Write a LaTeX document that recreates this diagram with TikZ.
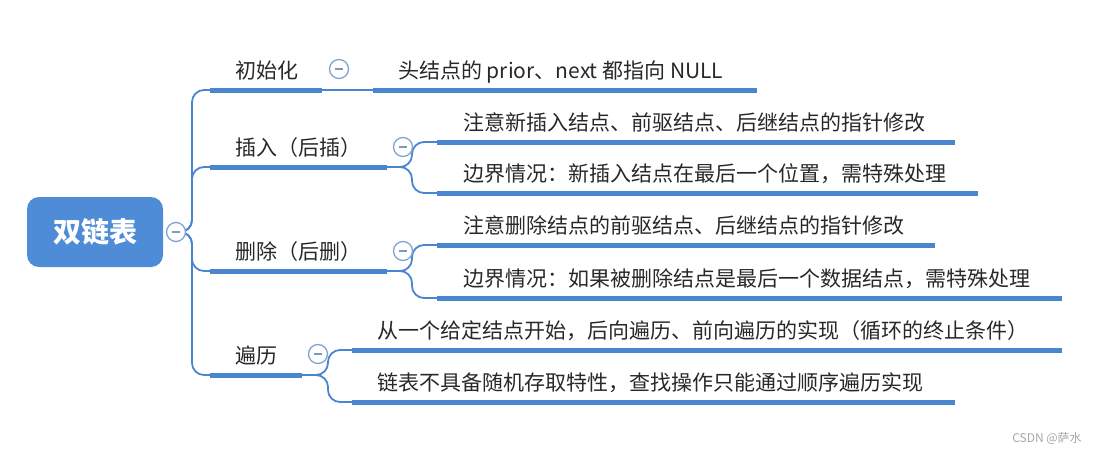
\documentclass[tikz,border=0pt]{standalone}
\usepackage{fontspec}
\setmainfont{Noto Sans CJK SC}
\definecolor{mapblue}{RGB}{74,134,207}
\definecolor{rootblue}{RGB}{79,140,215}
\definecolor{ringblue}{RGB}{128,163,210}
\definecolor{txtgray}{RGB}{40,40,40}

\begin{document}
\begin{tikzpicture}[
  x=1pt, y=-1pt,
  font=\fontsize{21}{25}\selectfont,
  link/.style={draw=mapblue, line width=1.8pt, rounded corners=12pt},
  uline/.style={draw=mapblue, line width=5pt},
  lbl/.style={anchor=base west, inner sep=0pt, text=txtgray},
  rootbox/.style={
    fill=rootblue,
    rounded corners=12pt,
    minimum width=136pt,
    minimum height=70pt,
    text=white,
    font=\fontsize{28}{32}\selectfont\bfseries
  },
  fold/.style={
    circle,
    draw=ringblue,
    fill=white,
    line width=1.3pt,
    minimum size=19pt,
    inner sep=0pt,
    path picture={\draw[ringblue!70!gray, line width=1.2pt]
      ([xshift=-4pt]path picture bounding box.center) --
      ([xshift=4pt]path picture bounding box.center);}
  },
  wm/.style={font=\fontsize{12}{14}\selectfont, text=gray!70}
]
\useasboundingbox (0,0) rectangle (1097,452);

% -------------------------------------------------
% Column x-positions
% -------------------------------------------------
\def\xL{210}   % level-1 underline start
\def\xT{235}   % level-1 text start
\def\xF{412}   % fork of level-1 -> level-2
\def\xC{437}   % level-2 underline start
\def\xCT{463}  % level-2 text start

% -------------------------------------------------
% ROOT
% -------------------------------------------------
\node[rootbox] (root) at (95,232) {双链表};
\coordinate (trunk) at (192,232);

% -------------------------------------------------
% LEVEL 1: topics
% -------------------------------------------------
\node[lbl] (t-init) at (\xT,78)  {初始化};
\node[lbl] (t-ins)  at (\xT,155) {插入（后插）};
\node[lbl] (t-del)  at (\xT,259) {删除（后删）};
\node[lbl] (t-trav) at (\xT,363) {遍历};

\coordinate (u-init-a) at (\xL,90);  \coordinate (u-init-b) at (322,90);
\coordinate (u-ins-a)  at (\xL,167); \coordinate (u-ins-b)  at (387,167);
\coordinate (u-del-a)  at (\xL,271); \coordinate (u-del-b)  at (387,271);
\coordinate (u-trav-a) at (\xL,375); \coordinate (u-trav-b) at (302,375);

% -------------------------------------------------
% LEVEL 2: details
% -------------------------------------------------
\node[lbl] (c-init)  at (398,78)   {头结点的 prior、next 都指向 NULL};
\node[lbl] (c-ins1)  at (\xCT,130) {注意新插入结点、前驱结点、后继结点的指针修改};
\node[lbl] (c-ins2)  at (\xCT,181) {边界情况：新插入结点在最后一个位置，需特殊处理};
\node[lbl] (c-del1)  at (\xCT,233) {注意删除结点的前驱结点、后继结点的指针修改};
\node[lbl] (c-del2)  at (\xCT,286) {边界情况：如果被删除结点是最后一个数据结点，需特殊处理};
\node[lbl] (c-trav1) at (377,338)  {从一个给定结点开始，后向遍历、前向遍历的实现（循环的终止条件）};
\node[lbl] (c-trav2) at (377,390)  {链表不具备随机存取特性，查找操作只能通过顺序遍历实现};

\coordinate (uc-init-a)  at (373,90);  \coordinate (uc-init-b)  at (757,90);
\coordinate (uc-ins1-a)  at (\xC,142); \coordinate (uc-ins1-b)  at (955,142);
\coordinate (uc-ins2-a)  at (\xC,193); \coordinate (uc-ins2-b)  at (978,193);
\coordinate (uc-del1-a)  at (\xC,245); \coordinate (uc-del1-b)  at (935,245);
\coordinate (uc-del2-a)  at (\xC,298); \coordinate (uc-del2-b)  at (1062,298);
\coordinate (uc-trav1-a) at (352,350); \coordinate (uc-trav1-b) at (1062,350);
\coordinate (uc-trav2-a) at (352,402); \coordinate (uc-trav2-b) at (955,402);

% forks
\coordinate (f-ins)  at (\xF,167);
\coordinate (f-del)  at (\xF,271);
\coordinate (f-trav) at (328,375);

% -------------------------------------------------
% CONNECTORS
% -------------------------------------------------
% root -> topics
\draw[link] (176,232) -- (trunk) |- (u-init-a);
\draw[link] (176,232) -- (trunk) |- (u-ins-a);
\draw[link] (176,232) -- (trunk) |- (u-del-a);
\draw[link] (176,232) -- (trunk) |- (u-trav-a);

% topics -> details
\draw[link] (u-init-b) -- (uc-init-a);
\draw[link] (u-ins-b) -- (f-ins) |- (uc-ins1-a);
\draw[link] (u-ins-b) -- (f-ins) |- (uc-ins2-a);
\draw[link] (u-del-b) -- (f-del) |- (uc-del1-a);
\draw[link] (u-del-b) -- (f-del) |- (uc-del2-a);
\draw[link] (u-trav-b) -- (f-trav) |- (uc-trav1-a);
\draw[link] (u-trav-b) -- (f-trav) |- (uc-trav2-a);

% -------------------------------------------------
% UNDERLINES
% -------------------------------------------------
\draw[uline] (u-init-a) -- (u-init-b);
\draw[uline] (u-ins-a) -- (u-ins-b);
\draw[uline] (u-del-a) -- (u-del-b);
\draw[uline] (u-trav-a) -- (u-trav-b);

\draw[uline] (uc-init-a) -- (uc-init-b);
\draw[uline] (uc-ins1-a) -- (uc-ins1-b);
\draw[uline] (uc-ins2-a) -- (uc-ins2-b);
\draw[uline] (uc-del1-a) -- (uc-del1-b);
\draw[uline] (uc-del2-a) -- (uc-del2-b);
\draw[uline] (uc-trav1-a) -- (uc-trav1-b);
\draw[uline] (uc-trav2-a) -- (uc-trav2-b);

% -------------------------------------------------
% FOLD MARKERS
% -------------------------------------------------
\node[fold] (fold-root) at (176,232) {};
\node[fold] (fold-init) at (339,69)  {};
\node[fold] (fold-ins)  at (403,147) {};
\node[fold] (fold-del)  at (403,251) {};
\node[fold] (fold-trav) at (318,354) {};

% watermark
\node[wm] (mark) at (1047,438) {CSDN @萨水};

\end{tikzpicture}
\end{document}
